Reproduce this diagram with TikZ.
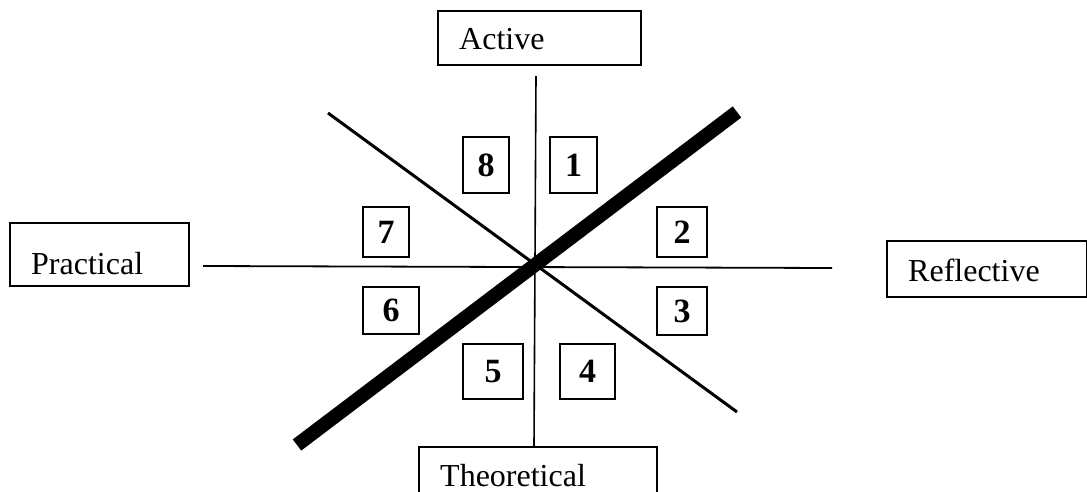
\documentclass[tikz,border=0pt]{standalone}
\usepackage{fontspec}
\setmainfont{Liberation Serif}
\usetikzlibrary{positioning}
\tikzset{
  tag/.style={draw, line width=1.2pt, anchor=north west, inner ysep=0pt, inner xsep=10.5pt, align=left, font=\fontsize{16}{18}\selectfont},
  numbox/.style={draw, line width=1.2pt, anchor=north west, inner sep=0pt, font=\fontsize{17}{19}\selectfont\bfseries}
}
\begin{document}
\begin{tikzpicture}[x=0.5pt,y=-0.5pt]
            \clip (0,0) rectangle (1087,492);
            \coordinate (v1) at (536,76);
            \coordinate (v2) at (534,446);
            \coordinate (h1) at (203,266);
            \coordinate (h2) at (832,268);
            \coordinate (d1) at (328,113);
            \coordinate (d2) at (737,412);
            \coordinate (t1) at (297,445);
            \coordinate (t2) at (737,112);
            %Axis
            \draw[line width=0.8pt] (v1) -- (v2);
            \draw[line width=0.9pt] (h1) -- (h2);
            \draw[line width=1.5pt] (d1) -- (d2);
            \draw[line width=7pt] (t1) -- (t2);
            %Labels
            \node[tag, text width=80.5pt, text height=19pt, text depth=8pt] (act) at (437,10) {Active};
            \node[tag, text width=68.5pt, text height=25.5pt, text depth=6pt] (pra) at (9,222) {Practical};
            \node[tag, text width=79pt, text height=20pt, text depth=8pt] (ref) at (886,240) {Reflective};
            \node[tag, text width=98pt, text height=19.5pt, text depth=8.5pt] (the) at (418,446) {Theoretical};
            %Numbers
            \node[numbox, minimum width=23.5pt, minimum height=28pt] (n1) at (549,136) {1};
            \node[numbox, minimum width=25pt, minimum height=25pt] (n2) at (656,206) {2};
            \node[numbox, minimum width=25pt, minimum height=24pt] (n3) at (656,286) {3};
            \node[numbox, minimum width=27.5pt, minimum height=27.5pt] (n4) at (559,343) {4};
            \node[numbox, minimum width=30pt, minimum height=27.5pt] (n5) at (462,343) {5};
            \node[numbox, minimum width=28pt, minimum height=23.5pt] (n6) at (362,286) {6};
            \node[numbox, minimum width=23pt, minimum height=25pt] (n7) at (362,206) {7};
            \node[numbox, minimum width=23pt, minimum height=28pt] (n8) at (462,136) {8};
        \end{tikzpicture}
\end{document}
